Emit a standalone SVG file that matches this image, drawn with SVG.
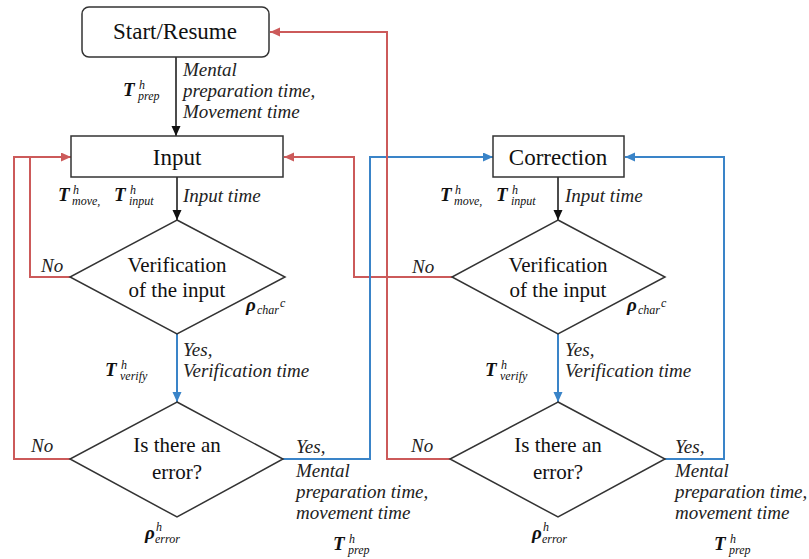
<svg xmlns="http://www.w3.org/2000/svg" width="809" height="559" viewBox="0 0 809 559">
<style>
.node{fill:#fff;stroke:#333;stroke-width:1.5}
.nt{font-size:23px;fill:#111;text-anchor:middle}
.dt{font-size:21px;fill:#111;text-anchor:middle}
.lb{font-size:19px;font-style:italic;fill:#222}
.mT{font-size:19px;font-style:italic;font-weight:bold;fill:#111}
.ms{font-size:12px;font-style:italic;font-weight:normal}
.blk{fill:none;stroke:#111;stroke-width:1.5}
.red{fill:none;stroke:#cc5a5a;stroke-width:2}
.blu{fill:none;stroke:#3a84c8;stroke-width:2}
</style>
<defs>
<marker id="ab" markerUnits="userSpaceOnUse" markerWidth="10" markerHeight="10" refX="10" refY="4.5" orient="auto"><path d="M0,0 L10,4.5 L0,9 z" fill="#111"/></marker>
<marker id="ar" markerUnits="userSpaceOnUse" markerWidth="10" markerHeight="10" refX="10" refY="4.5" orient="auto"><path d="M0,0 L10,4.5 L0,9 z" fill="#cc5a5a"/></marker>
<marker id="au" markerUnits="userSpaceOnUse" markerWidth="10" markerHeight="10" refX="10" refY="4.5" orient="auto"><path d="M0,0 L10,4.5 L0,9 z" fill="#3a84c8"/></marker>
</defs>
<rect width="809" height="559" fill="#fff"/>

<g id="connectors">
<polyline class="red" points="452,277 354,277 354,157 284,157" marker-end="url(#ar)"/>
<polyline class="red" points="70,459 14,459 14,157 30,157"/>
<polyline class="red" points="70,277 30,277 30,157 71,157" marker-end="url(#ar)"/>
<polyline class="blu" points="283,459 370,459 370,157 493,157" marker-end="url(#au)"/>
<polyline class="blu" points="665,459 724,459 724,157 625,157" marker-end="url(#au)"/>
<polyline class="red" points="450,459 387,459 387,32 270,32" marker-end="url(#ar)"/>
<line class="blk" x1="176" y1="57" x2="176" y2="136" marker-end="url(#ab)"/>
<line class="blk" x1="177" y1="177" x2="177" y2="220" marker-end="url(#ab)"/>
<line class="blk" x1="558" y1="177" x2="558" y2="220" marker-end="url(#ab)"/>
<line class="blu" x1="177" y1="334" x2="177" y2="402" marker-end="url(#au)"/>
<line class="blu" x1="558" y1="334" x2="558" y2="402" marker-end="url(#au)"/>
</g>

<g font-family="Liberation Serif, Times New Roman, serif">
<g id="start">
<rect class="node" x="82" y="7" width="187" height="50" rx="7"/>
<text class="nt" x="175" y="39">Start/Resume</text>
</g>
<g id="input">
<rect class="node" x="71" y="136" width="212" height="41"/>
<text class="nt" x="177" y="165">Input</text>
</g>
<g id="verify1">
<polygon class="node" points="177,220 285,277 177,334 70,277"/>
<text class="dt" x="177" y="272">Verification</text>
<text class="dt" x="177" y="297">of the input</text>
</g>
<g id="error1">
<polygon class="node" points="177,402 283,459 177,517 70,459"/>
<text class="dt" x="177" y="452">Is there an</text>
<text class="dt" x="177" y="479">error?</text>
</g>
<g id="correction">
<rect class="node" x="493" y="136" width="131" height="41"/>
<text class="nt" x="558" y="165">Correction</text>
</g>
<g id="verify2">
<polygon class="node" points="558,220 665,277 558,334 452,277"/>
<text class="dt" x="558" y="272">Verification</text>
<text class="dt" x="558" y="297">of the input</text>
</g>
<g id="error2">
<polygon class="node" points="558,402 665,459 558,517 450,459"/>
<text class="dt" x="558" y="452">Is there an</text>
<text class="dt" x="558" y="479">error?</text>
</g>

<g id="labels">
<text class="mT" x="123" y="96">T<tspan class="ms" x="139" y="89">h</tspan><tspan class="ms" x="138" y="100">prep</tspan></text>
<text class="lb" x="183" y="76">Mental</text>
<text class="lb" x="183" y="97">preparation time,</text>
<text class="lb" x="183" y="118">Movement time</text>
<text class="mT" x="58" y="201">T<tspan class="ms" x="73" y="194">h</tspan><tspan class="ms" x="72" y="205">move,</tspan><tspan x="114" y="201">T</tspan><tspan class="ms" x="130" y="194">h</tspan><tspan class="ms" x="129" y="205">input</tspan></text>
<text class="lb" x="183" y="202">Input time</text>
<text class="lb" x="41" y="272">No</text>
<text class="mT" x="246" y="311">ρ<tspan class="ms" x="257" y="314">char</tspan><tspan class="ms" x="280" y="307" font-size="9">c</tspan></text>
<text class="mT" x="105" y="376">T<tspan class="ms" x="121" y="369">h</tspan><tspan class="ms" x="120" y="380">verify</tspan></text>
<text class="lb" x="183" y="356">Yes,</text>
<text class="lb" x="183" y="377">Verification time</text>
<text class="lb" x="31" y="452">No</text>
<text class="mT" x="145" y="539">ρ<tspan class="ms" x="156" y="531">h</tspan><tspan class="ms" x="155" y="543">error</tspan></text>
<text class="lb" x="296" y="453">Yes,</text>
<text class="lb" x="296" y="477">Mental</text>
<text class="lb" x="296" y="498">preparation time,</text>
<text class="lb" x="296" y="519">movement time</text>
<text class="mT" x="333" y="550">T<tspan class="ms" x="349" y="543">h</tspan><tspan class="ms" x="348" y="554">prep</tspan></text>
<text class="mT" x="440" y="201">T<tspan class="ms" x="455" y="194">h</tspan><tspan class="ms" x="454" y="205">move,</tspan><tspan x="496" y="201">T</tspan><tspan class="ms" x="512" y="194">h</tspan><tspan class="ms" x="511" y="205">input</tspan></text>
<text class="lb" x="565" y="202">Input time</text>
<text class="lb" x="412" y="273">No</text>
<text class="mT" x="627" y="311">ρ<tspan class="ms" x="638" y="314">char</tspan><tspan class="ms" x="661" y="307" font-size="9">c</tspan></text>
<text class="mT" x="485" y="376">T<tspan class="ms" x="501" y="369">h</tspan><tspan class="ms" x="500" y="380">verify</tspan></text>
<text class="lb" x="565" y="356">Yes,</text>
<text class="lb" x="565" y="377">Verification time</text>
<text class="lb" x="411" y="452">No</text>
<text class="mT" x="532" y="539">ρ<tspan class="ms" x="543" y="531">h</tspan><tspan class="ms" x="542" y="543">error</tspan></text>
<text class="lb" x="675" y="453">Yes,</text>
<text class="lb" x="675" y="477">Mental</text>
<text class="lb" x="675" y="498">preparation time,</text>
<text class="lb" x="675" y="519">movement time</text>
<text class="mT" x="714" y="550">T<tspan class="ms" x="730" y="543">h</tspan><tspan class="ms" x="729" y="554">prep</tspan></text>
</g>
</g>
</svg>
